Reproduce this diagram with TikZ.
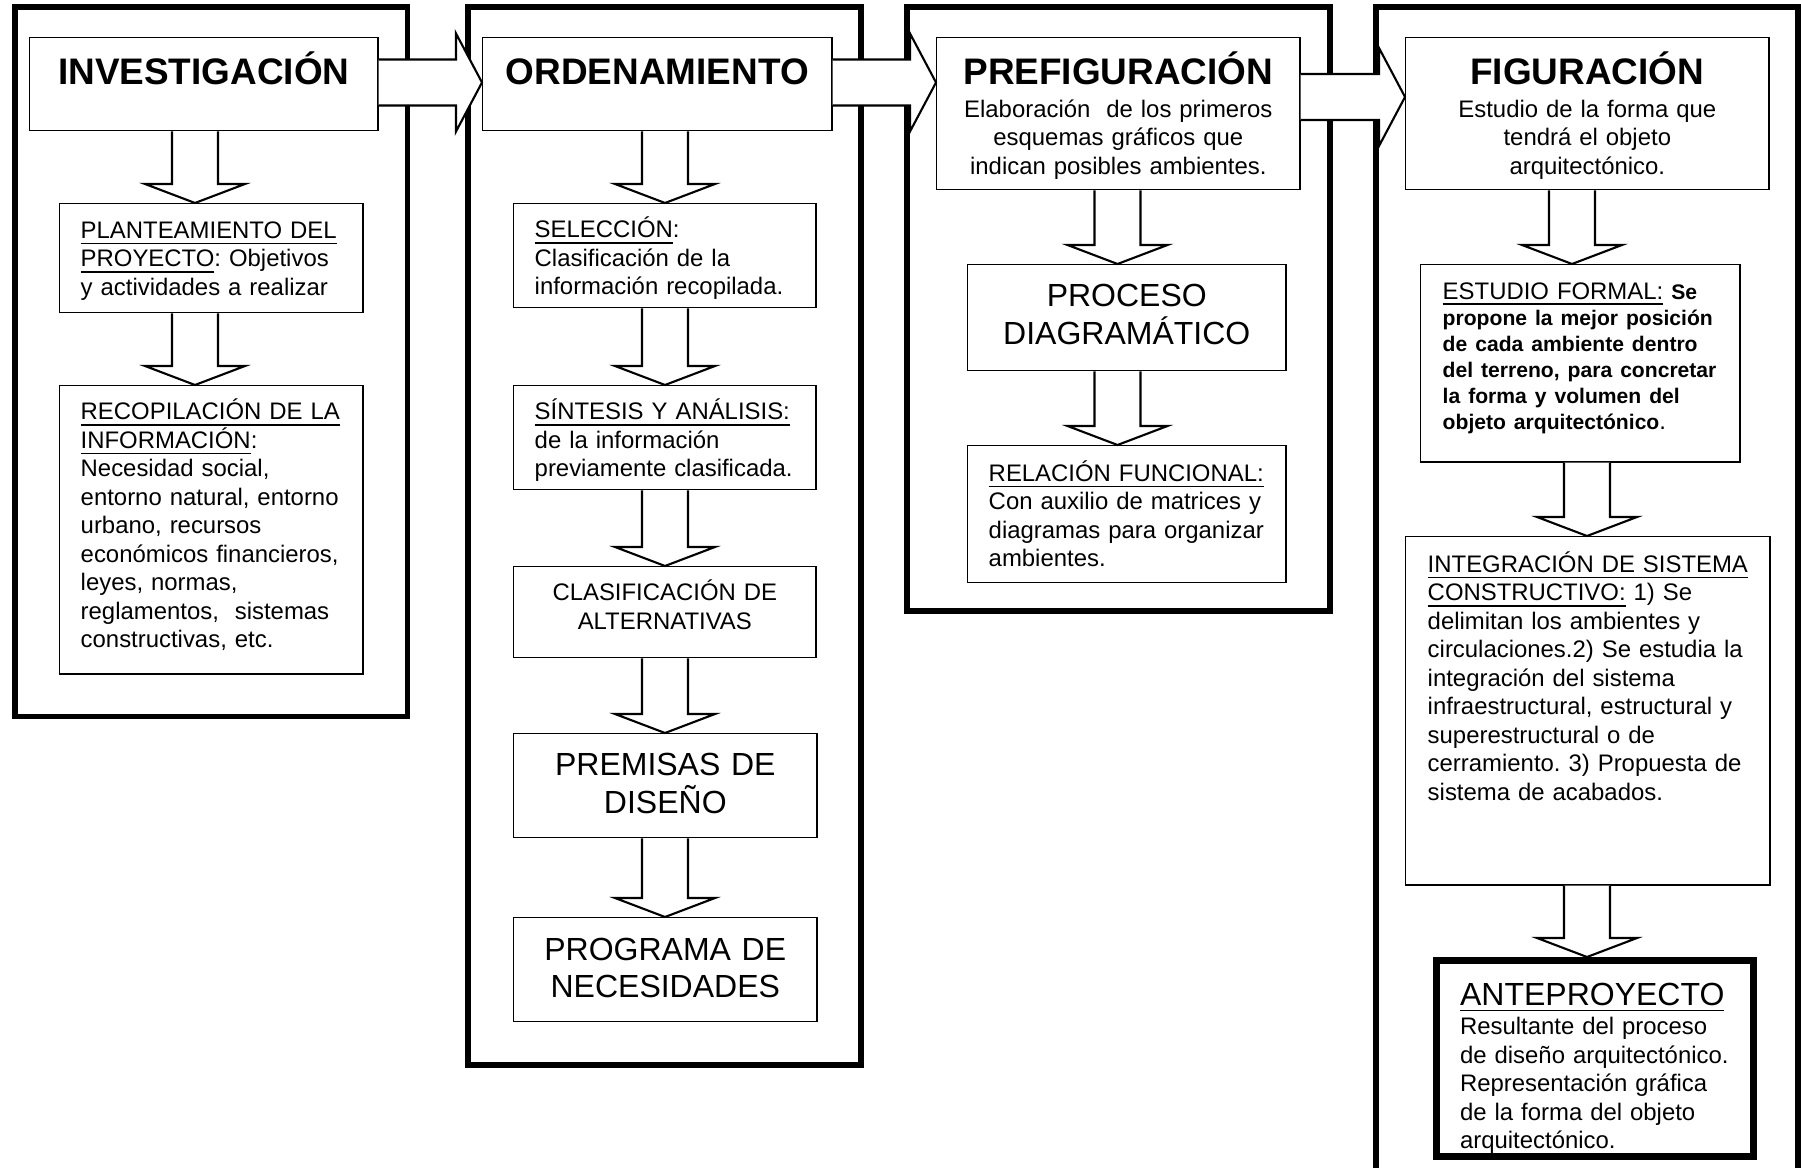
\documentclass[tikz,border=0pt]{standalone}
\usepackage{fontspec}
\setmainfont{Liberation Sans}
\usetikzlibrary{calc}
\frenchspacing

\newcommand{\cuerpo}{\fontsize{6.8}{8.1}\selectfont}
\newcommand{\cuerpocorto}{\fontsize{6.8}{7.4}\selectfont}
\newcommand{\grande}{\fontsize{9.1}{10.7}\selectfont}
\newcommand{\titulo}{\fontsize{10.5}{12}\selectfont\bfseries}
\newcommand{\negrita}{\fontsize{6}{7.4}\selectfont\bfseries}

\tikzset{
  marco/.style={line width=1.7pt},
  caja/.style={draw, line width=0.4pt, anchor=north west, inner sep=0pt, align=left, font=\cuerpo, execute at begin node={\leftskip=0.21cm}},
  centrada/.style={draw, line width=0.4pt, anchor=north west, inner sep=0pt, align=center, font=\cuerpo},
  cabecera/.style={centrada, font=\titulo},
  flecha/.style={draw, fill=white, line width=0.6pt}
}

% block arrows: #1 from node, #2 to node, #3 axis position
\newcommand{\flechaabajo}[3]{%
  \draw[flecha] let \p1=(#1.south), \p2=(#2.north), \p3=(#3,0) in
    (\x3-0.23cm,\y1) -- (\x3-0.23cm,\y2+0.19cm) -- (\x3-0.5cm,\y2+0.19cm) -- (\x3,\y2)
    -- (\x3+0.5cm,\y2+0.19cm) -- (\x3+0.23cm,\y2+0.19cm) -- (\x3+0.23cm,\y1);
}
\newcommand{\flechader}[3]{%
  \draw[flecha] let \p1=(#1.east), \p2=(#2.west), \p3=(0,#3) in
    (\x1,\y3+0.23cm) -- (\x2-0.26cm,\y3+0.23cm) -- (\x2-0.26cm,\y3+0.49cm) -- (\x2,\y3)
    -- (\x2-0.26cm,\y3-0.49cm) -- (\x2-0.26cm,\y3-0.23cm) -- (\x1,\y3-0.23cm);
}

\begin{document}
\begin{tikzpicture}[x=0.01cm, y=-0.01cm]
        \useasboundingbox (0,0) rectangle (1801,1168);

        % Stage frames
        \draw[marco] (15,7) rectangle (407.5,716.5);
        \draw[marco] (468,7) rectangle (861,1065);
        \draw[marco] (907,7) rectangle (1330,611);
        \draw[marco] (1375.5,1168) -- (1375.5,7) -- (1797.5,7) -- (1797.5,1168);

        % Investigacion
        \node[cabecera, text width=3.48cm, text height=0.47cm, text depth=0.46cm] (inv) at (29,37) {INVESTIGACIÓN};
        \node[caja, text width=3.03cm, text height=0.345cm, text depth=0.745cm] (plant) at (59,203)
            {\underline{PLANTEAMIENTO DEL}\\ \underline{PROYECTO}: Objetivos\\ y actividades a realizar};
        \node[caja, text width=3.03cm, text height=0.34cm, text depth=2.54cm] (recop) at (59,385)
            {\underline{RECOPILACIÓN DE LA}\\ \underline{INFORMACIÓN}:\\ Necesidad social,\\ entorno natural, entorno\\ urbano, recursos\\ económicos financieros,\\ leyes, normas,\\ reglamentos,~ sistemas\\ constructivas, etc.};

        % Ordenamiento
        \node[cabecera, text width=3.49cm, text height=0.47cm, text depth=0.46cm] (orden) at (482,37) {ORDENAMIENTO};
        \node[caja, text width=3.02cm, text height=0.34cm, text depth=0.70cm] (selec) at (513,203)
            {\underline{SELECCIÓN}:\\ Clasificación de la\\ información recopilada.};
        \node[caja, text width=3.02cm, text height=0.34cm, text depth=0.70cm] (sint) at (513,385)
            {\underline{SÍNTESIS Y ANÁLISIS:}\\ de la información\\ previamente clasificada.};
        \node[centrada, text width=3.02cm, text height=0.34cm, text depth=0.57cm] (clasif) at (513,566)
            {CLASIFICACIÓN DE\\ ALTERNATIVAS};
        \node[centrada, font=\grande, text width=3.03cm, text height=0.42cm, text depth=0.62cm] (premisas) at (513,733)
            {PREMISAS DE\\ DISEÑO};
        \node[centrada, font=\grande, text width=3.03cm, text height=0.423cm, text depth=0.617cm] (programa) at (513,917)
            {PROGRAMA DE\\ NECESIDADES};

        % Prefiguracion
        \node[centrada, text width=3.63cm, text height=0.463cm, text depth=1.057cm] (prefig) at (936,37)
            {{\titulo PREFIGURACIÓN}\\[1.3pt] Elaboración~ de los primeros\\ esquemas gráficos que\\ indican posibles ambientes.};
        \node[centrada, font=\grande, text width=3.18cm, text height=0.42cm, text depth=0.64cm] (proceso) at (967,264)
            {PROCESO\\ DIAGRAMÁTICO};
        \node[caja, text width=3.18cm, text height=0.357cm, text depth=1.013cm] (relac) at (967,445)
            {\underline{RELACIÓN FUNCIONAL:}\\ Con auxilio de matrices y\\ diagramas para organizar\\ ambientes.};

        % Figuracion
        \node[centrada, text width=3.63cm, text height=0.463cm, text depth=1.057cm] (fig) at (1405,37)
            {{\titulo FIGURACIÓN}\\[1.3pt] Estudio de la forma que\\ tendrá el objeto\\ arquitectónico.};
        \node[caja, font=\cuerpocorto, execute at begin node={\leftskip=0.22cm}, text width=3.19cm, text height=0.343cm, text depth=1.627cm] (estudio) at (1420,264)
            {\underline{ESTUDIO FORMAL:} {\negrita Se\\ propone la mejor posición\\ de cada ambiente dentro\\ del terreno, para concretar\\ la forma y volumen del\\ objeto arquitectónico}.};
        \node[caja, execute at begin node={\leftskip=0.22cm}, text width=3.64cm, text height=0.357cm, text depth=3.123cm] (integ) at (1405,536)
            {\underline{INTEGRACIÓN DE SISTEMA}\\ \underline{CONSTRUCTIVO:} 1) Se\\ delimitan los ambientes y\\ circulaciones.2) Se estudia la\\ integración del sistema\\ infraestructural, estructural y\\ superestructural o de\\ cerramiento. 3) Propuesta de\\ sistema de acabados.};
        \node[caja, line width=2pt, execute at begin node={\leftskip=0.235cm}, text width=3.17cm, text height=0.445cm, text depth=1.515cm] (antep) at (1433,957)
            {{\grande\underline{ANTEPROYECTO}}\\[0.4pt] Resultante del proceso\\ de diseño arquitectónico.\\ Representación gráfica\\ de la forma del objeto\\ arquitectónico.};

        % Arrows between stages
        \flechader{inv}{orden}{82.5}
        \flechader{orden}{prefig}{82.5}
        \flechader{prefig}{fig}{97}

        % Arrows inside stages
        \flechaabajo{inv}{plant}{195}
        \flechaabajo{plant}{recop}{195}
        \flechaabajo{orden}{selec}{665}
        \flechaabajo{selec}{sint}{665}
        \flechaabajo{sint}{clasif}{665}
        \flechaabajo{clasif}{premisas}{665}
        \flechaabajo{premisas}{programa}{665}
        \flechaabajo{prefig}{proceso}{1117.5}
        \flechaabajo{proceso}{relac}{1117.5}
        \flechaabajo{fig}{estudio}{1572}
        \flechaabajo{estudio}{integ}{1587}
        \flechaabajo{integ}{antep}{1587}

    \end{tikzpicture}
\end{document}
